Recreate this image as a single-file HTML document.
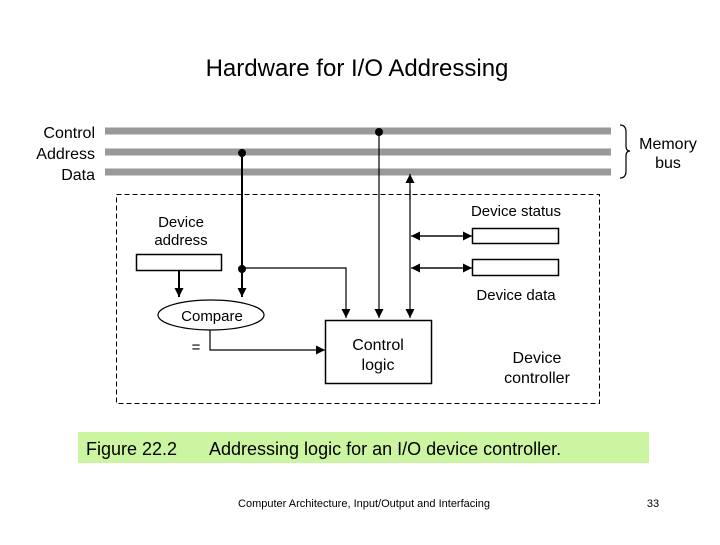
<!DOCTYPE html>
<html><head><meta charset="utf-8"><style>
body{margin:0;background:#fff;}
svg text{font-family:"Liberation Sans",sans-serif;fill:#000;}
</style></head><body>
<svg width="720" height="540" viewBox="0 0 720 540" xmlns="http://www.w3.org/2000/svg">
<defs>
<marker id="a" viewBox="0 0 10 10" refX="10" refY="5" markerWidth="9" markerHeight="9" orient="auto" markerUnits="userSpaceOnUse"><path d="M0,0L10,5L0,10z" fill="#000"/></marker>
</defs>
<text x="357" y="76" font-size="24" text-anchor="middle">Hardware for I/O Addressing</text>
<g font-size="16" text-anchor="end">
<text x="95" y="138">Control</text>
<text x="95" y="159">Address</text>
<text x="95" y="180">Data</text>
</g>
<g stroke="#999" stroke-width="7">
<line x1="105" y1="131" x2="611" y2="131"/>
<line x1="105" y1="152" x2="611" y2="152"/>
<line x1="105" y1="172" x2="611" y2="172"/>
</g>
<path d="M620,125 Q626,125 626,132 L626,146 Q626,151 630,151 Q626,151 626,156 L626,171 Q626,178 620,178" fill="none" stroke="#000" stroke-width="1.2"/>
<text x="668" y="149" font-size="16" text-anchor="middle">Memory</text>
<text x="668" y="168" font-size="16" text-anchor="middle">bus</text>
<rect x="116.5" y="194.5" width="483" height="209" fill="none" stroke="#000" stroke-dasharray="5,3"/>
<text x="181" y="227" font-size="15" text-anchor="middle">Device</text>
<text x="181" y="245" font-size="15" text-anchor="middle">address</text>
<rect x="136.5" y="254.5" width="85" height="16" fill="none" stroke="#000" stroke-width="1.5"/>
<text x="516" y="216" font-size="15" text-anchor="middle">Device status</text>
<text x="516" y="300" font-size="15" text-anchor="middle">Device data</text>
<rect x="472.5" y="228.5" width="86" height="15" fill="none" stroke="#000" stroke-width="1.5"/>
<rect x="472.5" y="259.5" width="86" height="16" fill="none" stroke="#000" stroke-width="1.5"/>
<g stroke="#000" fill="none">
<line x1="242" y1="153" x2="242" y2="297" stroke-width="2" marker-end="url(#a)"/>
<line x1="179" y1="270" x2="179" y2="297" stroke-width="2" marker-end="url(#a)"/>
<polyline points="242,268 346,268 346,318" stroke-width="1.2" marker-end="url(#a)"/>
<line x1="379" y1="132" x2="379" y2="318" stroke-width="1.2" marker-end="url(#a)"/>
<line x1="410" y1="190" x2="410" y2="318" stroke-width="1.2" marker-end="url(#a)"/>
<line x1="410" y1="200" x2="410" y2="174" stroke-width="1.2" marker-end="url(#a)"/>
<line x1="420" y1="236" x2="472" y2="236" stroke-width="1.2" marker-end="url(#a)"/>
<line x1="462" y1="236" x2="411" y2="236" stroke-width="1.2" marker-end="url(#a)"/>
<line x1="420" y1="268" x2="472" y2="268" stroke-width="1.2" marker-end="url(#a)"/>
<line x1="462" y1="268" x2="411" y2="268" stroke-width="1.2" marker-end="url(#a)"/>
<polyline points="210,330 210,350 325,350" stroke-width="1.2" marker-end="url(#a)"/>
</g>
<g fill="#000"><circle cx="379" cy="132" r="4"/><circle cx="242" cy="153" r="4"/><circle cx="242" cy="269" r="4"/></g>
<ellipse cx="211" cy="315" rx="53" ry="15" fill="#fff" stroke="#000" stroke-width="1.2"/>
<text x="212" y="321" font-size="15" text-anchor="middle">Compare</text>
<text x="196" y="352" font-size="15" text-anchor="middle">=</text>
<rect x="325.5" y="320.5" width="106" height="63" fill="#fff" stroke="#000" stroke-width="1.5"/>
<text x="378" y="350" font-size="16" text-anchor="middle">Control</text>
<text x="378" y="370" font-size="16" text-anchor="middle">logic</text>
<text x="537" y="363" font-size="16" text-anchor="middle">Device</text>
<text x="537" y="383" font-size="16" text-anchor="middle">controller</text>
<rect x="78" y="432" width="571" height="31" fill="#ccf5a2"/>
<text x="86" y="455" font-size="18">Figure 22.2</text>
<text x="209" y="455" font-size="18">Addressing logic for an I/O device controller.</text>
<text x="364" y="507" font-size="11" text-anchor="middle">Computer Architecture, Input/Output and Interfacing</text>
<text x="653" y="507" font-size="11" text-anchor="middle">33</text>
</svg>
</body></html>
